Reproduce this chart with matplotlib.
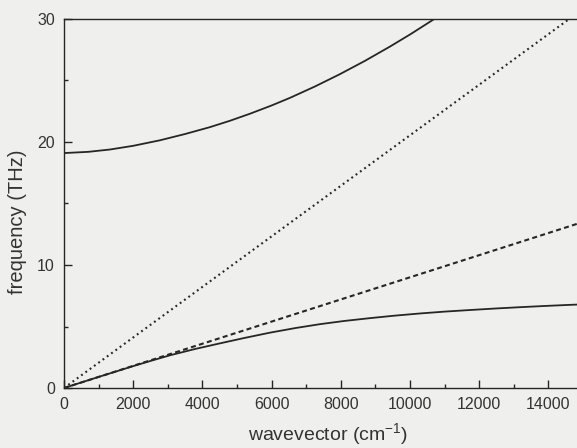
import matplotlib
matplotlib.use("Agg")
import matplotlib.pyplot as plt
from matplotlib.ticker import MultipleLocator

plt.rcParams['font.family'] = ['Liberation Sans', 'DejaVu Sans']
plt.rcParams['mathtext.default'] = 'regular'

# Upper polariton branch (wavevector cm^-1, frequency THz)
upper_k = [0, 700, 1330, 2000, 2775, 3500, 4220, 4800, 5376, 6000, 6532, 7250, 7977, 8700,
           9422, 10000, 10580, 10700]
upper_f = [19.1, 19.2, 19.39, 19.69, 20.14, 20.65, 21.21, 21.73, 22.30, 22.97, 23.59, 24.51,
           25.52, 26.60, 27.76, 28.74, 29.78, 30.0]

# Lower polariton branch
lower_k = [0, 500, 1000, 1500, 2000, 2500, 3064, 3800, 4509, 5200, 5954, 6700, 7399, 8100,
           8844, 9550, 10289, 11000, 11734, 12450, 13179, 13900, 14624, 15000]
lower_f = [0, 0.45, 0.90, 1.34, 1.78, 2.20, 2.66, 3.18, 3.63, 4.06, 4.50, 4.88, 5.19, 5.45,
           5.68, 5.88, 6.06, 6.21, 6.34, 6.46, 6.57, 6.67, 6.76, 6.80]

# Light line (dotted) and low-frequency dielectric line (dashed)
dotted_k = [0, 14600]
dotted_f = [0, 30]
dashed_k = [0, 15000]
dashed_f = [0, 13.5]

xticks = [0, 2000, 4000, 6000, 8000, 10000, 12000, 14000]
yticks = [0, 10, 20, 30]

bg = '#efefed'
ink = '#262626'

fig = plt.figure(figsize=(5.77, 4.48), dpi=100, facecolor=bg)
ax = fig.add_axes([64/577, 60/448, 519/577, 369/448], facecolor=bg)

ax.plot(upper_k, upper_f, color=ink, lw=1.3, solid_capstyle='round', solid_joinstyle='round')
ax.plot(lower_k, lower_f, color=ink, lw=1.3, solid_capstyle='round', solid_joinstyle='round')
ax.plot(dotted_k, dotted_f, color=ink, lw=1.5, linestyle=(0, (0.9, 1.65)))
ax.plot(dashed_k, dashed_f, color=ink, lw=1.5, linestyle=(0, (2.4, 1.6)))

ax.set_xlim(0, 15000)
ax.set_ylim(0, 30)
ax.set_xticks(xticks)
ax.set_yticks(yticks)
ax.xaxis.set_minor_locator(MultipleLocator(1000))
ax.yaxis.set_minor_locator(MultipleLocator(5))
ax.tick_params(which='major', direction='in', length=6, width=1.0, color=ink,
               labelsize=11.5, labelcolor='#333333', pad=6.5)
ax.tick_params(which='minor', direction='in', length=3, width=1.0, color=ink)
ax.tick_params(top=False, right=False, which='both')

for s in ax.spines.values():
    s.set_linewidth(1.0)
    s.set_color(ink)

fig.text(18/577, (448-222)/448, 'frequency (THz)', rotation=90, ha='center', va='center',
         fontsize=14.5, color='#333333')
fig.text(328/577, (448-434)/448, r'wavevector (cm$^{-1}$)', ha='center', va='center',
         fontsize=14, color='#333333')

fig.savefig('out.png', dpi=100, facecolor=bg)
